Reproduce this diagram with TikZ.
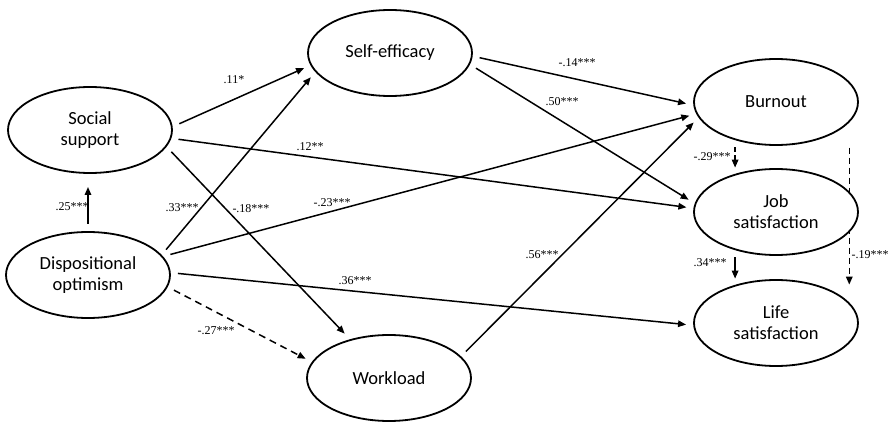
\documentclass[tikz,border=0pt]{standalone}
\usepackage{fontspec}
\setmainfont{Carlito}
\newfontfamily\coeffont{Liberation Serif}
\usetikzlibrary{arrows.meta,shapes.geometric,backgrounds}

\begin{document}
\begin{tikzpicture}[
        x={(1pt,0pt)},
        y={(0pt,-1pt)},
        latent/.style={ellipse, draw, fill=white, line width=1.8pt, minimum width=164pt, minimum height=86pt, outer sep=8pt, align=center, font=\fontsize{18.5}{21}\selectfont},
        coef/.style={font=\coeffont\fontsize{12}{14}\selectfont, inner sep=1pt},
        eff/.style={->, >={Triangle[length=8pt,width=6.5pt]}, line width=1.5pt},
        dasheff/.style={eff, dash pattern=on 7pt off 5pt},
        ]
        \useasboundingbox (0,0) rectangle (892,422);

        \node(ss)[latent] at (90,130) {Social\\support};
        \node(do)[latent] at (88,275) {Dispositional\\optimism};
        \node(se)[latent] at (390,53) {Self-efficacy};
        \node(wl)[latent] at (389,378) {Workload};
        \node(bo)[latent] at (776,102) {Burnout};
        \node(js)[latent] at (776,212) {Job\\satisfaction};
        \node(ls)[latent] at (776,323) {Life\\satisfaction};

        \begin{scope}[on background layer]
        \draw[eff](ss.4)--(se.190);
        \draw[eff](do.18)--(se.197);
        \draw[eff](ss.-6)--(js.177);
        \draw[eff](ss.-15)--(wl.135);
        \draw[eff](do.14)--(bo.189);
        \draw[eff](do.1)--(ls.181);
        \draw[dasheff](do.-10)--(wl.167);
        \draw[eff](se.-3)--(bo.181);
        \draw[eff](se.-10)--(js.172);
        \draw[eff](wl.19)--(bo.194);
        \draw[eff,shorten >=6pt](do.north)--(do.north |- ss.south);
        \draw[dasheff,dash pattern=on 5pt off 3pt](bo.228)--(bo.228 |- js.135);
        \draw[eff](js.228)--(js.228 |- ls.135);
        \draw[dasheff,dash pattern=on 6pt off 4pt,shorten <=16pt,shorten >=-6pt](bo.-22)--(bo.-22 |- ls.45);
        \end{scope}

        \node(c1)[coef] at (234,80) {.11*};
        \node(c2)[coef] at (182,208) {.33***};
        \node(c3)[coef] at (251,209) {-.18***};
        \node(c4)[coef] at (332,203) {-.23***};
        \node(c5)[coef] at (310,147) {.12**};
        \node(c6)[coef] at (355,281) {.36***};
        \node(c7)[coef] at (72,207) {.25***};
        \node(c8)[coef] at (216,331) {-.27***};
        \node(c9)[coef] at (577,63) {-.14***};
        \node(c10)[coef] at (562,102) {.50***};
        \node(c11)[coef] at (542,255) {.56***};
        \node(c12)[coef] at (712,157) {-.29***};
        \node(c13)[coef] at (710,263) {.34***};
        \node(c14)[coef] at (870,255) {-.19***};

      \end{tikzpicture}
\end{document}
